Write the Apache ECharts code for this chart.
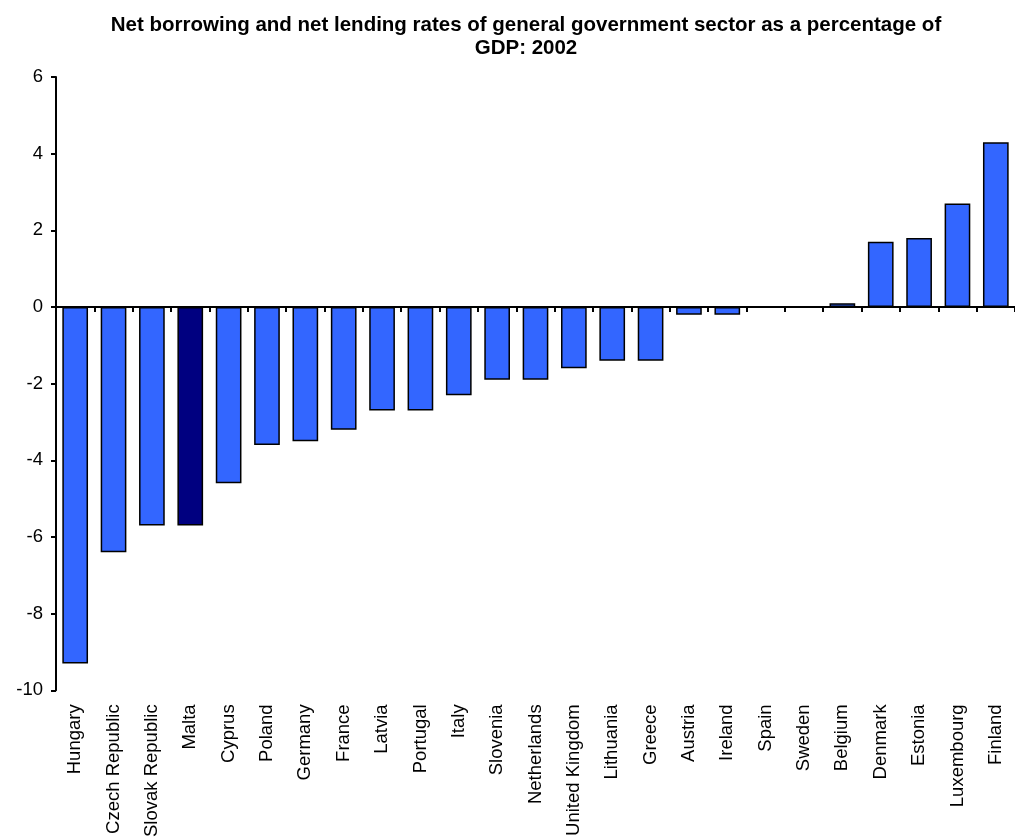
<!DOCTYPE html>
<html>
<head>
<meta charset="utf-8">
<script src="https://cdn.jsdelivr.net/npm/echarts@6/dist/echarts.min.js"></script>
<style>html,body{margin:0;padding:0;background:#fff}#c{width:1015px;height:840px}</style>
</head>
<body>
<div id="c"></div>
<script>
const categories = ["Hungary","Czech Republic","Slovak Republic","Malta","Cyprus","Poland","Germany","France","Latvia","Portugal","Italy","Slovenia","Netherlands","United Kingdom","Lithuania","Greece","Austria","Ireland","Spain","Sweden","Belgium","Denmark","Estonia","Luxembourg","Finland"];
const values = [-9.3,-6.4,-5.7,-5.7,-4.6,-3.6,-3.5,-3.2,-2.7,-2.7,-2.3,-1.9,-1.9,-1.6,-1.4,-1.4,-0.2,-0.2,0,0,0.1,1.7,1.8,2.7,4.3];
const highlighted = ["Malta"];
const yTicks = [-10,-8,-6,-4,-2,0,2,4,6];
const titleText = "Net borrowing and net lending rates of general government sector as a percentage of\nGDP: 2002";

const chart = echarts.init(document.getElementById('c'));
const font = 'Arial, "Liberation Sans", sans-serif';
chart.setOption({
  animation: false,
  backgroundColor: '#fff',
  title: {
    text: titleText,
    left: 521, top: 9, textAlign: 'center',
    textStyle: {fontFamily: font, fontSize: 20.5, fontWeight: 'bold', color: '#000', lineHeight: 23}
  },
  grid: {left: 56, top: 77, bottom: 146, right: -8},
  xAxis: [{
    type: 'category', data: categories, position: 'bottom',
    axisLine: {onZero: true, lineStyle: {color: '#000', width: 2}},
    axisTick: {show: true, inside: false, length: 5, interval: 0, lineStyle: {color: '#000', width: 2}},
    axisLabel: {show: false}
  }, {
    type: 'category', data: categories, position: 'bottom',
    axisLine: {show: false, onZero: false},
    axisTick: {show: false},
    axisLabel: {interval: 0, rotate: 90, margin: 14, fontFamily: font, fontSize: 18.5, color: '#000'}
  }],
  yAxis: {
    type: 'value', min: yTicks[0], max: yTicks[yTicks.length-1], interval: 2,
    axisLine: {show: true, lineStyle: {color: '#000', width: 2}},
    axisTick: {show: true, length: 5, lineStyle: {color: '#000', width: 2}},
    axisLabel: {margin: 13, fontFamily: font, fontSize: 18.5, color: '#000'},
    splitLine: {show: false}
  },
  series: [{
    type: 'bar', xAxisIndex: 0, barCategoryGap: '33%',
    data: values.map((v, i) => ({
      value: v,
      itemStyle: {color: highlighted.includes(categories[i]) ? '#000080' : '#3366FF'}
    })),
    itemStyle: {borderColor: '#000', borderWidth: 1.5}
  }]
});
</script>
</body>
</html>
